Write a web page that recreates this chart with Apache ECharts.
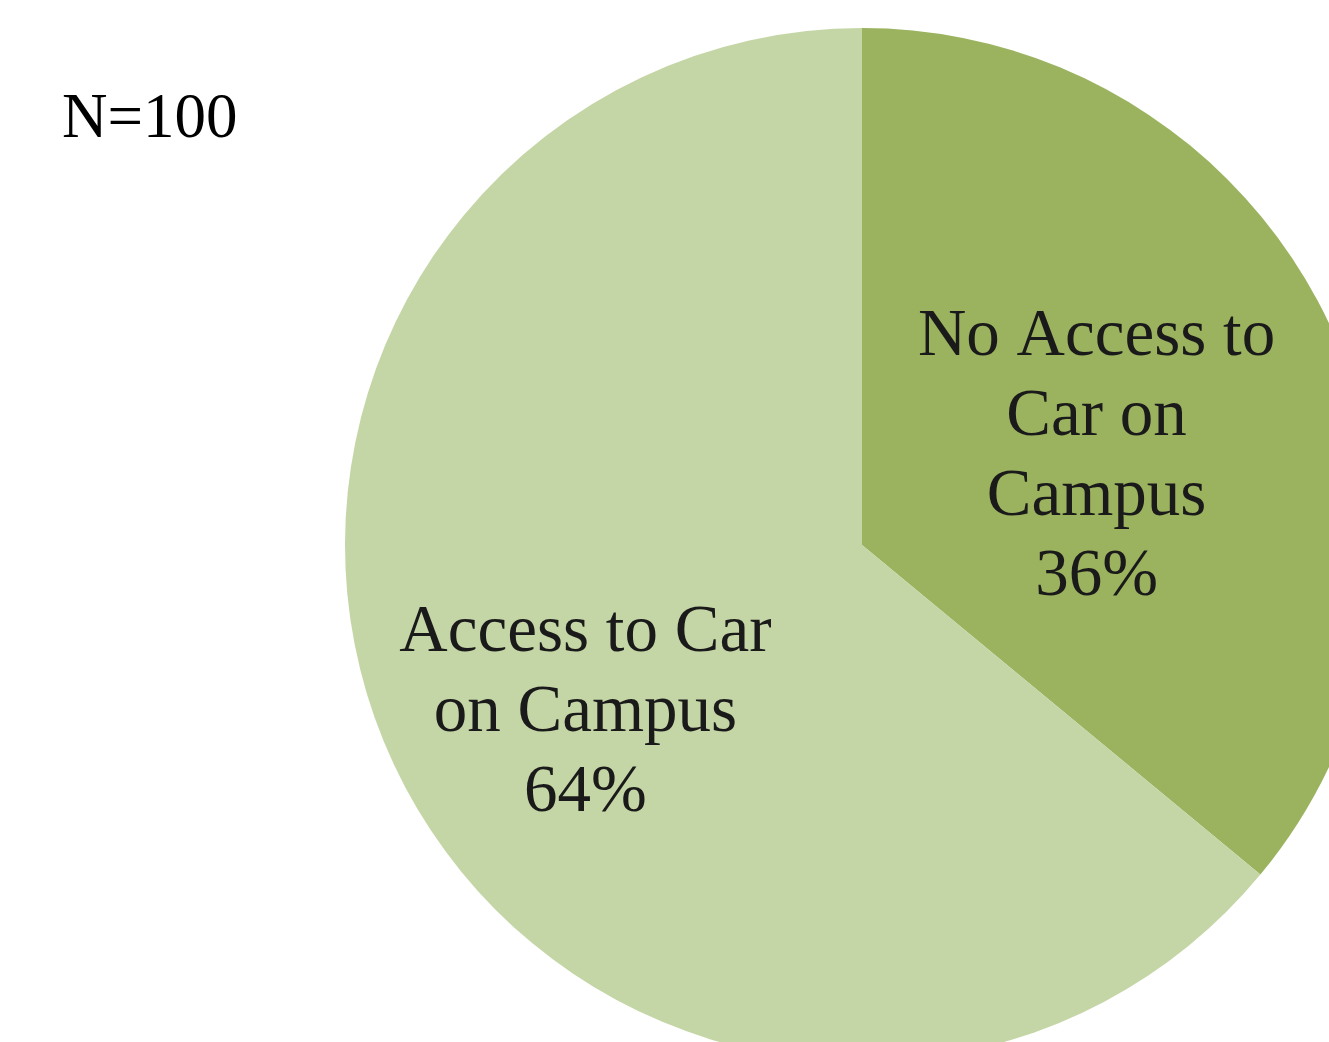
<!DOCTYPE html>
<html>
<head>
<meta charset="utf-8">
<script src="https://cdn.jsdelivr.net/npm/echarts@6/dist/echarts.min.js"></script>
<style>
html,body{margin:0;padding:0;background:#fff;}
#main{width:1329px;height:1042px;}
</style>
</head>
<body>
<div id="main"></div>
<script>
const categories = ['No Access to\nCar on\nCampus', 'Access to Car\non Campus'];
const values = [36, 64];
const colors = ['#9BB35F', '#C5D6A6'];
const sampleLabel = 'N=100';

const chart = echarts.init(document.getElementById('main'));
chart.setOption({
  animation: false,
  backgroundColor: '#ffffff',
  title: {
    text: sampleLabel,
    left: 57,
    top: 84,
    textStyle: { fontFamily: 'Liberation Serif', fontSize: 63, fontWeight: 'normal', color: '#000' }
  },
  series: [{
    type: 'pie',
    center: [862, 545],
    radius: [0, 517],
    startAngle: 90,
    clockwise: true,
    silent: true,
    data: categories.map((c, i) => ({ name: c, value: values[i], itemStyle: { color: colors[i] } })),
    label: {
      show: true,
      position: 'inside',
      formatter: p => p.name + '\n' + p.value + '%',
      fontFamily: 'Liberation Serif',
      fontSize: 67,
      lineHeight: 80,
      color: '#1a1a1a',
      align: 'center'
    },
    labelLine: { show: false },
    labelLayout: function (params) {
      if (params.dataIndex === 0) return { dx: -2, dy: 24 };
      return { dx: -40, dy: 57 };
    }
  }]
});
</script>
</body>
</html>
